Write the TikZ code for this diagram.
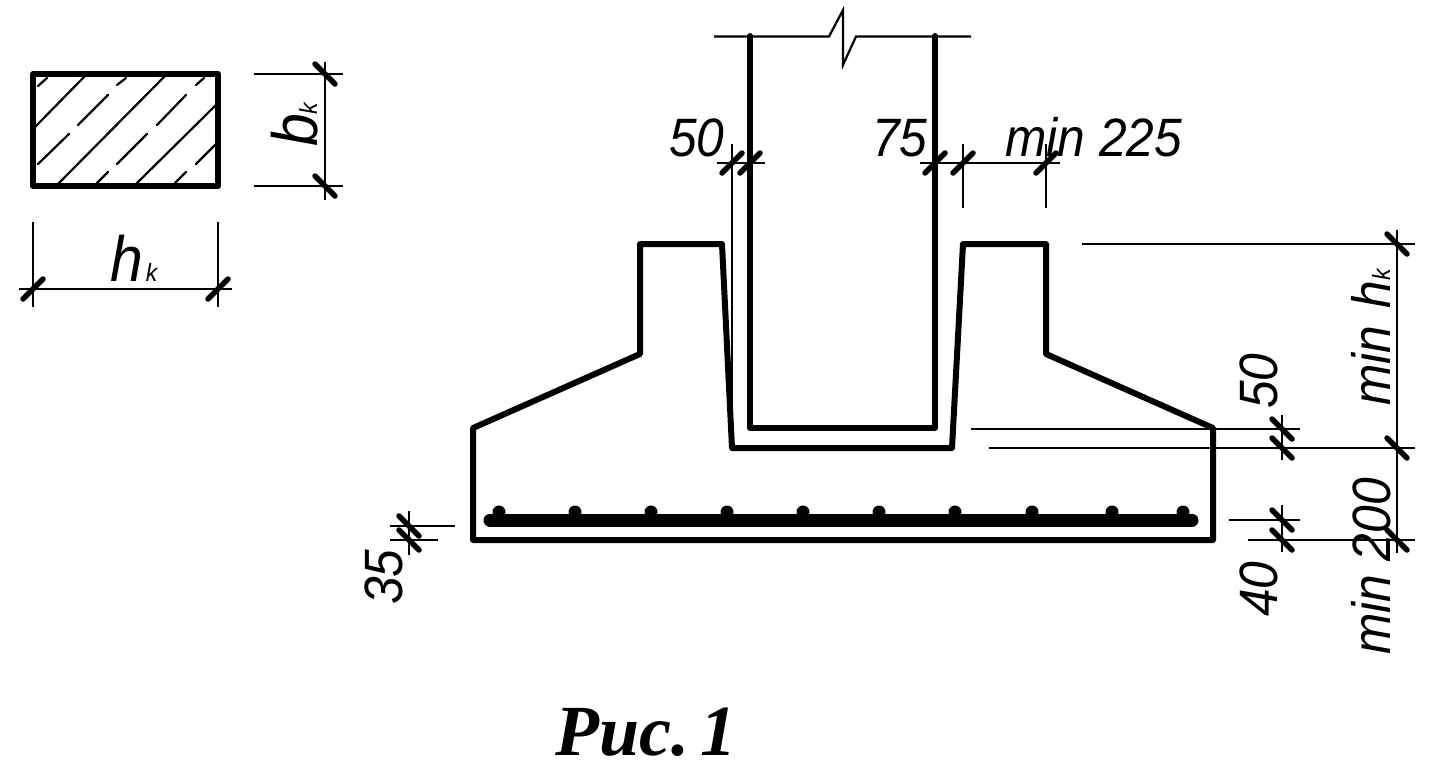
\documentclass[tikz,border=0pt]{standalone}
\usepackage{fontspec}
\setmainfont[FakeStretch=0.92]{Liberation Sans}
\newfontfamily\titlefont{Liberation Serif}
\usepackage{tikz}
\usetikzlibrary{calc}
\newcommand{\subk}{{\fontsize{25}{25}\selectfont k}}
\newcommand{\bigletter}{\fontsize{64}{64}\selectfont}
\tikzset{
    outline/.style={line width=6pt, line join=round, line cap=round},
    dimline/.style={line width=2.2pt},
    hatchline/.style={line width=2.2pt, line cap=round},
    tickmark/.style={line width=5.5pt, line cap=round},
    dimtext/.style={font=\fontsize{54}{54}\selectfont\itshape, inner sep=0pt},
    uptext/.style={dimtext, rotate=90, anchor=base west}
}
\begin{document}
\begin{tikzpicture}[x=1pt, y=-1pt]
    \useasboundingbox (0,0) rectangle (1436,782);
    % section of the column
    \foreach \xa/\ya/\xb/\yb in {35/127/85/76, 58/184/165/76, 136/184/216/105,
        38/86/47/78, 78/125/108/95, 38/164/69/134, 117/164/147/134, 157/125/186/95,
        117/85/126/78, 196/85/204/78, 196/164/216/144, 97/183/108/172, 175/183/186/172} {
        \draw[hatchline] (\xa,\ya) -- (\xb,\yb);
    }
    \draw[outline] (33,74) rectangle (218,186);
    \draw[dimline] (254,74) -- (343,74);
    \draw[dimline] (254,186) -- (343,186);
    \draw[dimline] (325,62) -- (325,200);
    \draw[dimline] (19,289) -- (232,289);
    \draw[dimline] (33,222) -- (33,307);
    \draw[dimline] (218,222) -- (218,307);
    \foreach \x/\y in {33/289, 218/289} {
        \draw[tickmark] ($(\x,\y)+(-10,10)$) -- ($(\x,\y)+(10,-10)$);
    }
    \node[uptext] (bk) at (317,147) {\bigletter b\subk};
    \node[dimtext, anchor=base west] (hk) at (110,281) {\bigletter h\kern3pt\subk};
    % column and socket
    \draw[dimline] (714,36.5) -- (829,36.5) -- (843,10) -- (843,65) -- (856,36.5) -- (971,36.5);
    \draw[outline] (750,36) -- (750,428) -- (935,428) -- (935,36);
    \draw[outline] (640,244) -- (722,244) -- (732,448) -- (952,448) -- (963,244) -- (1046,244)
        -- (1046,354) -- (1213,428) -- (1213,540) -- (473,540) -- (473,428) -- (640,354) -- cycle;
    % reinforcement
    \draw[line width=13pt, line cap=round] (490,520) -- (1192,520);
    \foreach \x in {499,575,651,727,803,879,955,1032,1112,1183} {
        \fill (\x,512) circle (6.5);
    }
    % dimensions at the top
    \draw[dimline] (717,163) -- (765,163);
    \draw[dimline] (920,163) -- (1060,163);
    \draw[dimline] (732,144) -- (732,448);
    \draw[dimline] (963,144) -- (963,208);
    \draw[dimline] (1046,144) -- (1046,208);
    \foreach \x in {732,750,935,963,1046} {
        \draw[tickmark] ($(\x,163)+(-10,10)$) -- ($(\x,163)+(10,-10)$);
    }
    \node[dimtext, anchor=base west] (gapleft) at (669,156) {50};
    \node[dimtext, anchor=base west] (gapright) at (872,156) {75};
    \node[dimtext, anchor=base west] (minwall) at (1005,156) {min 225};
    % dimensions on the right
    \draw[dimline] (971,429) -- (1300,429);
    \draw[dimline] (989,448) -- (1415,448);
    \draw[dimline] (1229,520) -- (1300,520);
    \draw[dimline] (1248,540) -- (1415,540);
    \draw[dimline] (1082,244) -- (1415,244);
    \draw[dimline] (1282,415) -- (1282,460);
    \draw[dimline] (1282,505) -- (1282,552);
    \draw[dimline] (1397,230) -- (1397,553);
    % dimension on the left
    \draw[dimline] (390,526) -- (455,526);
    \draw[dimline] (390,540) -- (438,540);
    \draw[dimline] (409,511) -- (409,555);
    \foreach \x/\y in {325/74, 325/186, 1282/429, 1282/448, 1282/520, 1282/540,
        1397/244, 1397/448, 1397/540, 409/526, 409/540} {
        \draw[tickmark] ($(\x,\y)+(-10,-10)$) -- ($(\x,\y)+(10,10)$);
    }
    \node[uptext] (cover) at (402,605) {35};
    \node[uptext] (gapbottom) at (1277,409) {50};
    \node[uptext] (coverright) at (1277,617) {40};
    \node[uptext] (minsocket) at (1390,406) {min\kern17pt h\kern1pt\subk};
    \node[uptext] (minplate) at (1390,655) {min 200};
    % caption
    \node[font=\fontsize{72}{72}\selectfont\titlefont\bfseries\itshape, inner sep=0pt, anchor=base west] (caption) at (555,755) {Рис.\kern11pt 1};
\end{tikzpicture}
\end{document}
